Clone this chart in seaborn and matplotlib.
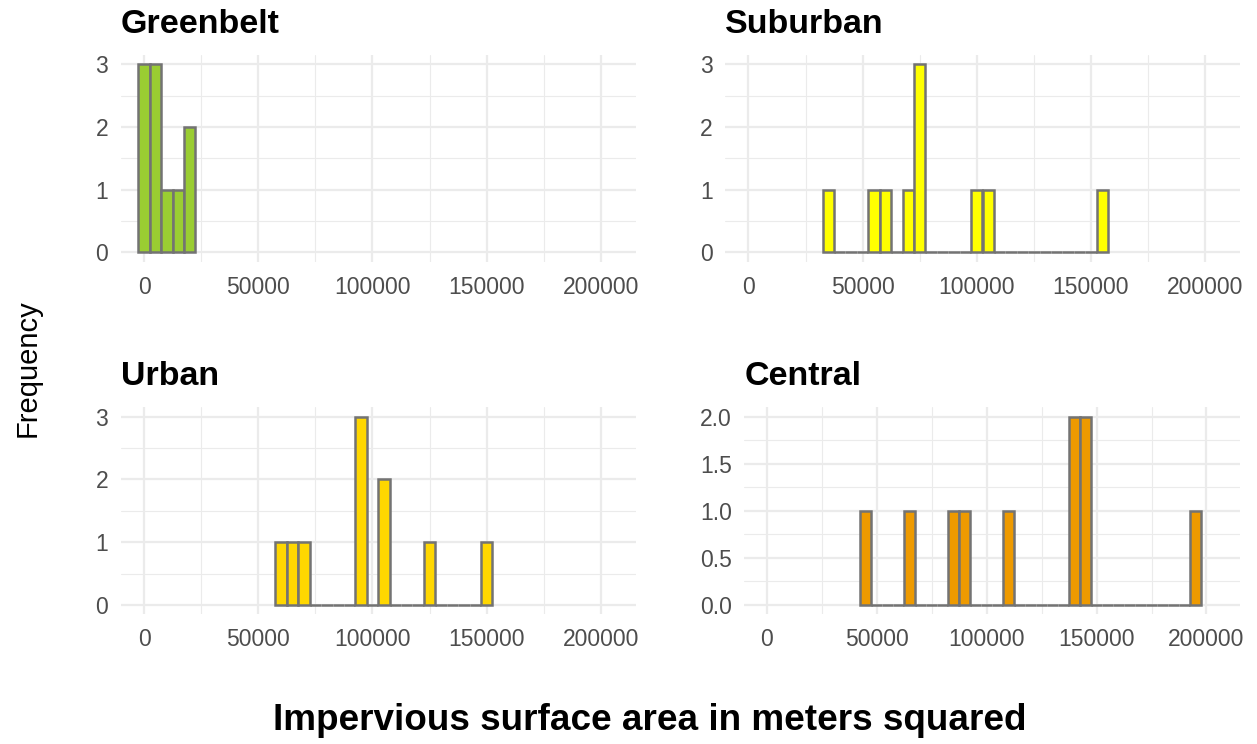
import numpy as np
import matplotlib
matplotlib.use("Agg")
import matplotlib.pyplot as plt
import seaborn as sns
from matplotlib.ticker import FixedLocator

# ---- data (bin centres, binwidth 5000) ----
greenbelt_x = [0, 5000, 10000, 15000, 20000]
greenbelt_n = [3, 3, 1, 1, 2]
suburban_x = [35000, 55000, 60000, 70000, 75000, 100000, 105000, 155000]
suburban_n = [1, 1, 1, 1, 3, 1, 1, 1]
urban_x = [60000, 65000, 70000, 95000, 105000, 125000, 150000]
urban_n = [1, 1, 1, 3, 2, 1, 1]
central_x = [45000, 65000, 85000, 90000, 110000, 140000, 145000, 195000]
central_n = [1, 1, 1, 1, 1, 2, 2, 1]

titles = ["Greenbelt", "Suburban", "Urban", "Central"]
fills = ["#9ACD32", "#FFFF00", "#FFD700", "#EE9A00"]
x_ticks = [0, 50000, 100000, 150000, 200000]
BINW = 5000

sns.set_style("white")
plt.rcParams["font.family"] = ["Liberation Sans", "DejaVu Sans"]

W, H = 1257, 744
fig = plt.figure(figsize=(W / 100, H / 100), dpi=100)

def box(l, t, r, b):
    return [l / W, 1 - b / H, (r - l) / W, (b - t) / H]

panels = [
    (greenbelt_x, greenbelt_n, box(120.7, 55, 635.7, 261.7), False),
    (suburban_x, suburban_n, box(725, 55, 1240, 261.7), False),
    (urban_x, urban_n, box(120.7, 407.3, 635.7, 614.3), False),
    (central_x, central_n, box(744.3, 407.3, 1240, 614.3), True),
]

for (xs, ns, rect, half), title, col in zip(panels, titles, fills):
    ax = fig.add_axes(rect)
    sns.histplot(x=xs, weights=ns, binwidth=BINW,
                 binrange=(min(xs) - BINW / 2, max(xs) + BINW / 2),
                 color=col, alpha=1, edgecolor="#737373", linewidth=1.8,
                 ax=ax, zorder=3)
    ax.set_xlim(-10250, 215250)
    if half:
        ax.set_ylim(-0.1, 2.1)
        ax.set_yticks([0, 0.5, 1, 1.5, 2])
        ax.set_yticklabels(["0.0", "0.5", "1.0", "1.5", "2.0"])
        ax.yaxis.set_minor_locator(FixedLocator([0.25, 0.75, 1.25, 1.75]))
    else:
        ax.set_ylim(-0.15, 3.15)
        ax.set_yticks([0, 1, 2, 3])
        ax.set_yticklabels(["0", "1", "2", "3"])
        ax.yaxis.set_minor_locator(FixedLocator([0.5, 1.5, 2.5]))
    ax.set_xticks(x_ticks)
    ax.set_xticklabels([str(v) for v in x_ticks])
    ax.xaxis.set_minor_locator(FixedLocator([25000, 75000, 125000, 175000]))
    ax.grid(which="major", color="#EBEBEB", linewidth=1.6, zorder=0)
    ax.grid(which="minor", color="#EBEBEB", linewidth=0.8, zorder=0)
    ax.set_axisbelow(True)
    for s in ax.spines.values():
        s.set_visible(False)
    ax.tick_params(which="both", length=0, labelsize=16.5, labelcolor="#4D4D4D")
    ax.tick_params(axis="x", pad=10)
    ax.tick_params(axis="y", pad=9)
    ax.set_xlabel("")
    ax.set_ylabel("")
    ax.text(0.0, 1.0 + 22.3 / (rect[3] * H), title, transform=ax.transAxes,
            ha="left", va="baseline", fontsize=24.5, fontweight="bold", color="black")

fig.text(28 / W, 1 - 368 / H, "Frequency", rotation=90, ha="center", va="center",
         fontsize=21, color="black")
fig.text(650 / W, 1 - 720 / H, "Impervious surface area in meters squared",
         ha="center", va="center", fontsize=26.6, fontweight="bold", color="black")

fig.savefig("out.png", dpi=100, facecolor="white")
